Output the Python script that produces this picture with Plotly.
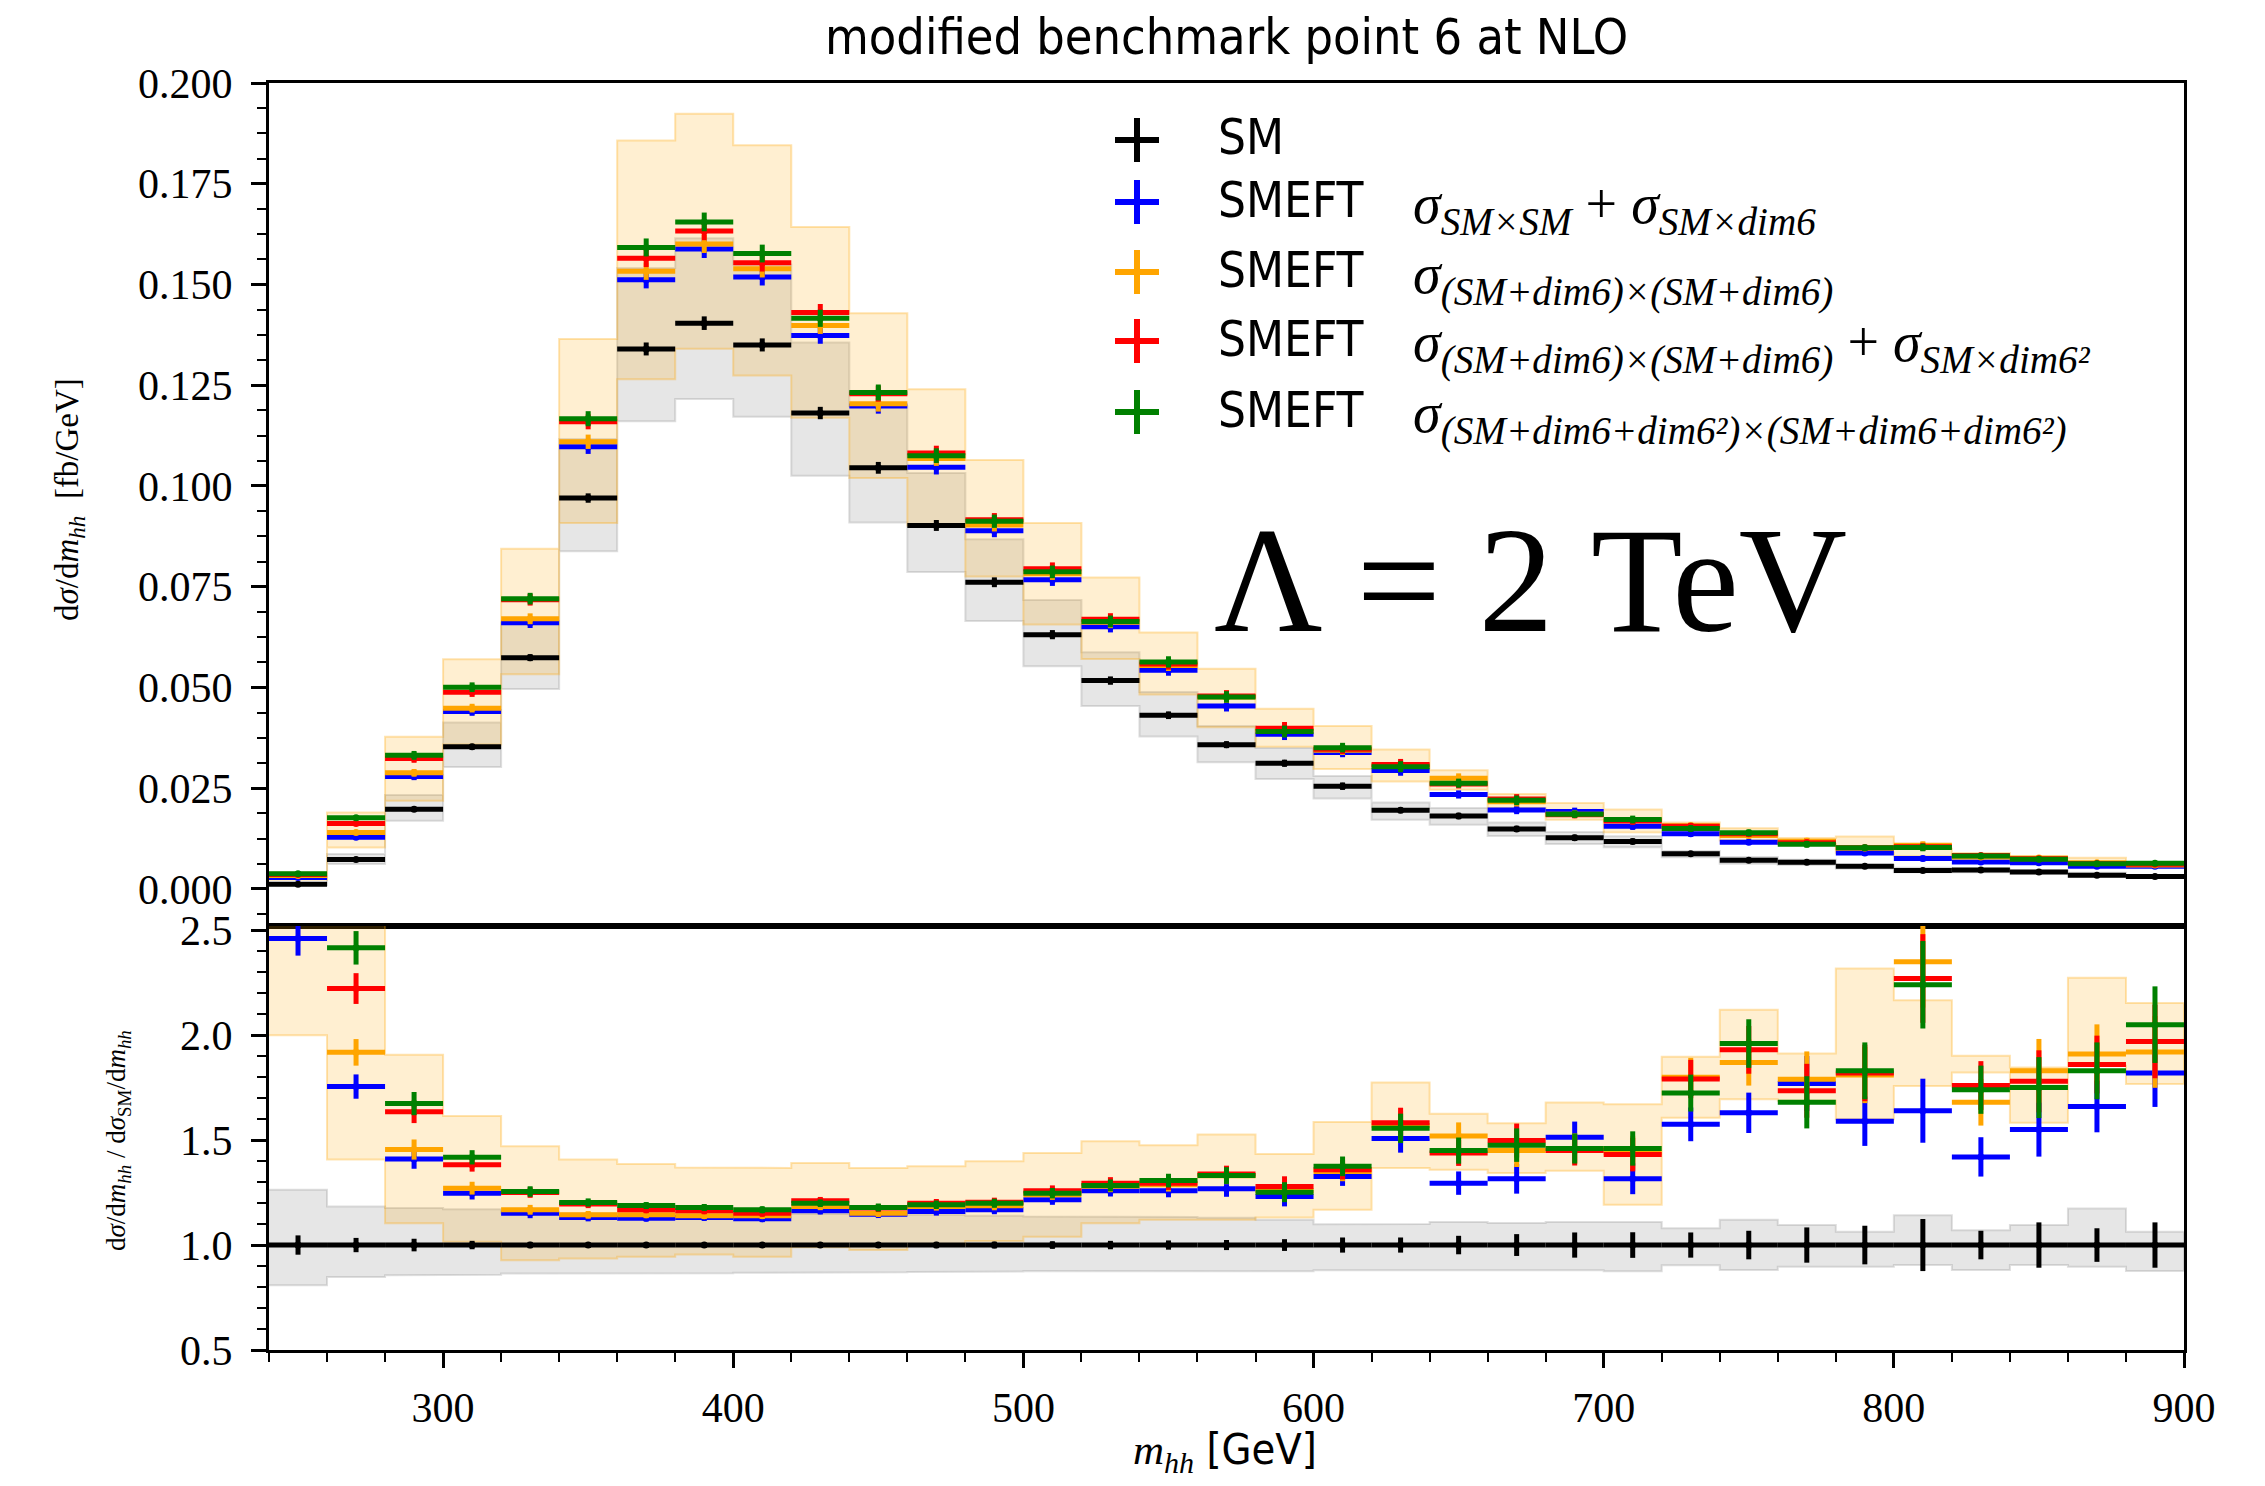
import plotly.graph_objects as go

# ---------------- data ----------------
bin_edges = [240 + 20 * i for i in range(34)]
bin_centers = [250 + 20 * i for i in range(33)]
half_width = 10

# SM differential cross section [fb/GeV]
sm = [0.00115, 0.0073, 0.0198, 0.0353, 0.0574, 0.0970, 0.1340, 0.1404, 0.1350, 0.1181,
      0.1045, 0.0902, 0.0761, 0.0631, 0.0517, 0.0431, 0.0358, 0.0312, 0.0255, 0.0195,
      0.0181, 0.0149, 0.0127, 0.0118, 0.0087, 0.0071, 0.0066, 0.0056, 0.0046, 0.0047,
      0.0042, 0.0034, 0.0031]

# ratios to SM
ratio_blue = [2.46, 1.755, 1.41, 1.247, 1.151, 1.131, 1.128, 1.131, 1.125, 1.163,
              1.147, 1.16, 1.168, 1.216, 1.259, 1.259, 1.268, 1.231, 1.327, 1.508,
              1.295, 1.316, 1.514, 1.316, 1.575, 1.63, 1.77, 1.59, 1.64, 1.42,
              1.55, 1.66, 1.82]
ratio_orange = [2.9, 1.918, 1.455, 1.271, 1.168, 1.144, 1.144, 1.14, 1.14, 1.184,
                1.152, 1.184, 1.187, 1.24, 1.28, 1.287, 1.33, 1.26, 1.35, 1.57,
                1.519, 1.45, 1.46, 1.44, 1.80, 1.87, 1.79, 1.81, 2.35, 1.68,
                1.83, 1.91, 1.92]
ratio_red = [3.1, 2.222, 1.635, 1.383, 1.25, 1.195, 1.168, 1.163, 1.151, 1.211,
             1.176, 1.199, 1.204, 1.259, 1.295, 1.295, 1.338, 1.279, 1.359, 1.583,
             1.439, 1.498, 1.45, 1.431, 1.791, 1.93, 1.735, 1.82, 2.27, 1.76,
             1.78, 1.86, 1.97]
ratio_green = [3.3, 2.416, 1.674, 1.418, 1.255, 1.203, 1.188, 1.179, 1.168, 1.199,
               1.179, 1.192, 1.199, 1.247, 1.284, 1.307, 1.331, 1.252, 1.375, 1.556,
               1.45, 1.476, 1.46, 1.46, 1.724, 1.96, 1.68, 1.83, 2.24, 1.74,
               1.75, 1.83, 2.05]

# relative statistical errors
rel_err_sm = [0.046, 0.034, 0.03, 0.02, 0.015, 0.012, 0.012, 0.012, 0.012, 0.013,
              0.014, 0.015, 0.016, 0.018, 0.02, 0.022, 0.024, 0.028, 0.036, 0.036,
              0.044, 0.052, 0.06, 0.061, 0.06, 0.068, 0.084, 0.092, 0.124, 0.068,
              0.108, 0.08, 0.108]
rel_err_eft = [0.033, 0.033, 0.033, 0.024, 0.02, 0.016, 0.014, 0.014, 0.014, 0.015,
               0.016, 0.017, 0.018, 0.02, 0.022, 0.025, 0.03, 0.038, 0.034, 0.045,
               0.043, 0.054, 0.049, 0.056, 0.051, 0.059, 0.074, 0.074, 0.093, 0.066,
               0.083, 0.074, 0.089]

# scale-uncertainty bands (relative to SM)
sm_band_lo = [0.808, 0.848, 0.856, 0.858, 0.864, 0.864, 0.866, 0.866, 0.868, 0.868,
              0.87, 0.872, 0.874, 0.876, 0.878, 0.878, 0.878, 0.875, 0.88, 0.88,
              0.88, 0.88, 0.88, 0.875, 0.904, 0.881, 0.897, 0.897, 0.905, 0.881,
              0.905, 0.897, 0.876]
sm_band_hi = [1.263, 1.184, 1.176, 1.17, 1.151, 1.151, 1.15, 1.15, 1.148, 1.148,
              1.146, 1.144, 1.14, 1.136, 1.136, 1.134, 1.13, 1.12, 1.099, 1.10,
              1.11, 1.105, 1.11, 1.11, 1.08, 1.12, 1.095, 1.063, 1.142, 1.07,
              1.095, 1.174, 1.063]
eft_band_lo = [2.0, 1.407, 1.104, 1.016, 0.928, 0.936, 0.944, 0.955, 0.944, 0.99,
               0.976, 1.0, 1.019, 1.04, 1.104, 1.12, 1.12, 1.131, 1.168, 1.367,
               1.359, 1.343, 1.354, 1.192, 1.607, 1.695, 1.687, 1.599, 1.758, 1.822,
               1.583, 1.854, 1.767]
eft_band_hi = [3.6, 2.6, 1.907, 1.615, 1.471, 1.407, 1.386, 1.37, 1.367, 1.391,
               1.367, 1.375, 1.399, 1.439, 1.495, 1.476, 1.527, 1.434, 1.586, 1.774,
               1.626, 1.58, 1.679, 1.671, 1.897, 2.121, 1.913, 2.318, 2.166, 1.902,
               1.846, 2.274, 2.153]

series_names = ["SM", "SMEFT", "SMEFT", "SMEFT", "SMEFT"]
series_formulas = [
    "",
    "<i>σ</i><sub><i>SM×SM</i></sub> + <i>σ</i><sub><i>SM×dim6</i></sub>",
    "<i>σ</i><sub><i>(SM+dim6)×(SM+dim6)</i></sub>",
    "<i>σ</i><sub><i>(SM+dim6)×(SM+dim6)</i></sub> + <i>σ</i><sub><i>SM×dim6²</i></sub>",
    "<i>σ</i><sub><i>(SM+dim6+dim6²)×(SM+dim6+dim6²)</i></sub>",
]
series_colors = ["black", "#0000ff", "#ffa500", "#ff0000", "#008000"]

title_text = "modified benchmark point 6 at NLO"
lambda_text = "Λ = 2 TeV"

# ---------------- figure ----------------
W, H = 2265, 1486
L, R, T, B = 269, 81, 83, 136
PW, PH = W - L - R, H - T - B
split = 926  # pixel y of the panel divider
top_dom = [(H - B - split) / PH, 1.0]
bot_dom = [0.0, (H - B - split) / PH]

SERIF = "Liberation Serif, DejaVu Serif, serif"
SANS = "DejaVu Sans Condensed, Liberation Sans Narrow, DejaVu Sans, sans-serif"


def px_x(px):
    return (px - L) / PW


def px_y(py):
    return (H - B - py) / PH


def step_poly(lo, hi):
    xs, ys = [], []
    for i in range(len(bin_centers)):
        xs += [bin_edges[i], bin_edges[i + 1]]
        ys += [hi[i], hi[i]]
    for i in reversed(range(len(bin_centers))):
        xs += [bin_edges[i + 1], bin_edges[i]]
        ys += [lo[i], lo[i]]
    return xs, ys


fig = go.Figure()

bands = [
    (sm_band_lo, sm_band_hi, "rgba(128,128,128,0.20)", "rgba(128,128,128,0.25)"),
    (eft_band_lo, eft_band_hi, "rgba(255,165,0,0.18)", "rgba(255,165,0,0.30)"),
]
for lo_r, hi_r, fc, lc in bands:
    # ratio panel
    xs, ys = step_poly(lo_r, hi_r)
    fig.add_trace(go.Scatter(x=xs, y=ys, fill="toself", fillcolor=fc, mode="lines",
                             line=dict(color=lc, width=2), xaxis="x2", yaxis="y2",
                             showlegend=False, hoverinfo="skip"))
    # top panel
    lo_abs = [s * r for s, r in zip(sm, lo_r)]
    hi_abs = [s * r for s, r in zip(sm, hi_r)]
    xs, ys = step_poly(lo_abs, hi_abs)
    fig.add_trace(go.Scatter(x=xs, y=ys, fill="toself", fillcolor=fc, mode="lines",
                             line=dict(color=lc, width=2), xaxis="x", yaxis="y",
                             showlegend=False, hoverinfo="skip"))

ratios = [[1.0] * len(sm), ratio_blue, ratio_orange, ratio_red, ratio_green]
rel_errs = [rel_err_sm, rel_err_eft, rel_err_eft, rel_err_eft, rel_err_eft]

for k in range(5):
    col = series_colors[k]
    rat = ratios[k]
    vals = [s * r for s, r in zip(sm, rat)]
    errs_top = [v * e for v, e in zip(vals, rel_errs[k])]
    errs_rat = [r * e for r, e in zip(rat, rel_errs[k])]
    for yy, ee, xa, ya in [(vals, errs_top, "x", "y"), (rat, errs_rat, "x2", "y2")]:
        fig.add_trace(go.Scatter(
            x=bin_centers, y=yy, mode="markers",
            marker=dict(color=col, size=7),
            error_x=dict(type="constant", value=half_width, width=0, thickness=5, color=col),
            error_y=dict(type="data", array=ee, width=0, thickness=5, color=col),
            xaxis=xa, yaxis=ya, showlegend=False, cliponaxis=True))

axis_common = dict(showline=True, linecolor="black", linewidth=3, mirror=True,
                   showgrid=False, zeroline=False)
tick_font = dict(family=SERIF, size=42, color="black")

fig.update_layout(
    width=W, height=H,
    margin=dict(l=L, r=R, t=T, b=B),
    paper_bgcolor="white", plot_bgcolor="white",
    showlegend=False,
    xaxis=dict(domain=[0, 1], range=[240, 900], anchor="y", matches="x2",
               showticklabels=False, ticks="", **axis_common),
    xaxis2=dict(domain=[0, 1], range=[240, 900], anchor="y2",
                tick0=0, dtick=100, ticks="outside", ticklen=15, tickwidth=3,
                tickcolor="black", ticklabelstandoff=4,
                minor=dict(dtick=20, tick0=0, ticks="outside", ticklen=9, tickwidth=2,
                           tickcolor="black"),
                tickfont=tick_font, **axis_common),
    yaxis=dict(domain=top_dom, range=[-0.0092, 0.2], anchor="x",
               tick0=0, dtick=0.025, tickformat=".3f", ticks="outside", ticklen=15,
               tickwidth=3, tickcolor="black", ticklabelstandoff=10,
               minor=dict(dtick=0.00625, tick0=0, ticks="outside", ticklen=9, tickwidth=2,
                          tickcolor="black"),
               tickfont=tick_font, **axis_common),
    yaxis2=dict(domain=bot_dom, range=[0.5, 2.52], anchor="x2",
                tick0=0, dtick=0.5, tickformat=".1f", ticks="outside", ticklen=15,
                tickwidth=3, tickcolor="black", ticklabelstandoff=10,
                minor=dict(dtick=0.1, tick0=0, ticks="outside", ticklen=9, tickwidth=2,
                           tickcolor="black"),
                tickfont=tick_font, **axis_common),
)

ann = []
ann.append(dict(text=title_text, xref="paper", yref="paper", x=0.5, y=px_y(37),
                xanchor="center", yanchor="middle", showarrow=False,
                font=dict(family=SANS, size=50, color="black")))
ann.append(dict(text="d<i>σ</i>/d<i>m</i><sub><i>hh</i></sub>  [fb/GeV]",
                xref="paper", yref="paper", x=px_x(70), y=px_y(500), textangle=-90,
                xanchor="center", yanchor="middle", showarrow=False,
                font=dict(family=SERIF, size=33, color="black")))
ann.append(dict(text="d<i>σ</i>/d<i>m</i><sub><i>hh</i></sub> / d<i>σ</i><sub>SM</sub>/d<i>m</i><sub><i>hh</i></sub>",
                xref="paper", yref="paper", x=px_x(118), y=px_y(1141), textangle=-90,
                xanchor="center", yanchor="middle", showarrow=False,
                font=dict(family=SERIF, size=27, color="black")))
ann.append(dict(text="<span style='font-family:Liberation Serif'><i>m</i><sub><i>hh</i></sub></span> [GeV]",
                xref="paper", yref="paper", x=px_x(1225), y=px_y(1452),
                xanchor="center", yanchor="middle", showarrow=False,
                font=dict(family=SANS, size=43, color="black")))
ann.append(dict(text=lambda_text, xref="paper", yref="paper", x=px_x(1530), y=px_y(580),
                xanchor="center", yanchor="middle", showarrow=False,
                font=dict(family=SERIF, size=150, color="black")))

shapes = []
rows_py = [140, 202, 272, 341, 412]
cross_px, cross_half = 1137, 22
for k in range(5):
    py = rows_py[k]
    col = series_colors[k]
    shapes.append(dict(type="line", xref="paper", yref="paper",
                       x0=px_x(cross_px - cross_half), x1=px_x(cross_px + cross_half),
                       y0=px_y(py), y1=px_y(py), line=dict(color=col, width=6)))
    shapes.append(dict(type="line", xref="paper", yref="paper",
                       x0=px_x(cross_px), x1=px_x(cross_px),
                       y0=px_y(py - cross_half), y1=px_y(py + cross_half),
                       line=dict(color=col, width=6)))
    ann.append(dict(text=series_names[k], xref="paper", yref="paper",
                    x=px_x(1216), y=px_y(py - 2), xanchor="left", yanchor="middle",
                    showarrow=False, font=dict(family=SANS, size=49, color="black")))
    if series_formulas[k]:
        ann.append(dict(text=series_formulas[k], xref="paper", yref="paper",
                        x=px_x(1411), y=px_y(py + 6), xanchor="left", yanchor="middle",
                        showarrow=False, font=dict(family=SERIF, size=56, color="black")))

fig.update_layout(annotations=ann, shapes=shapes)
fig.write_html("out.html")
